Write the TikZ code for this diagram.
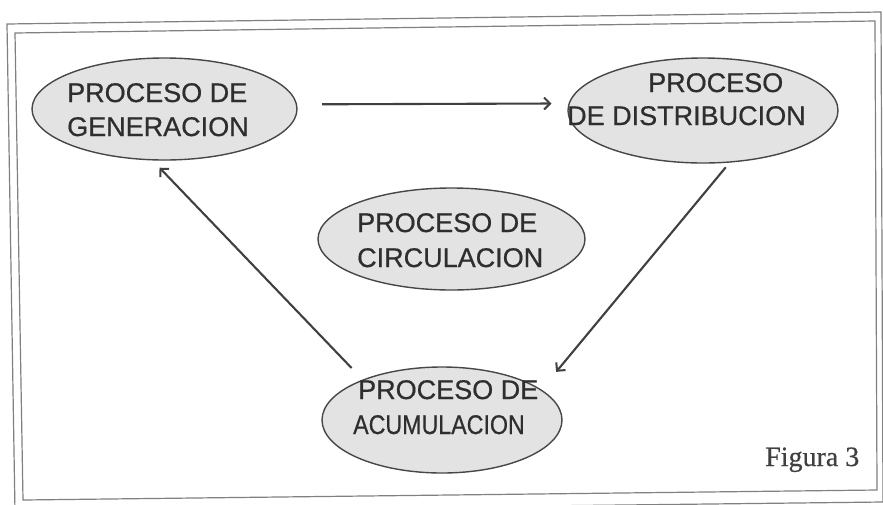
\documentclass[tikz,border=0pt]{standalone}
\usepackage{graphicx}
\usepackage{fontspec}
\setmainfont{Liberation Serif}
\newfontfamily\arialf[FakeBold=0.6]{Liberation Sans}
\newfontfamily\timesf[FakeBold=0.5]{Liberation Serif}
\usetikzlibrary{shapes.geometric,arrows.meta}
\begin{document}
\begin{tikzpicture}[x=1pt,y=-1pt,
  proc/.style={ellipse, draw=black!72, line width=1.4pt, fill=black!11, inner sep=0pt},
  lbl/.style={font=\arialf\fontsize{27}{27}\selectfont, text=black!82, anchor=base west, inner sep=0pt},
  flow/.style={draw=black!75, line width=2.1pt, -{Straight Barb[length=6pt,width=12pt,line width=2pt]}},
  framel/.style={draw=black!50, line width=1.2pt}]
\useasboundingbox (0,0) rectangle (883,504);
\fill[white] (0,0) rectangle (883,504);
% double frame
\draw[framel] (7,24) -- (881,12) -- (883,502) -- (15,512) -- cycle;
\draw[framel] (15,33) -- (875,21) -- (877,490) -- (23,500) -- cycle;
% ellipses
\node[proc, minimum width=265pt, minimum height=102pt] (gen) at (164.5,109) {};
\node[proc, minimum width=270pt, minimum height=105pt] (dist) at (703,110.5) {};
\node[proc, minimum width=267pt, minimum height=102pt] (circ) at (451.5,239) {};
\node[proc, minimum width=240pt, minimum height=106pt] (acc) at (442,420) {};
% texts
\node[lbl] (gen1) at (67,102) {PROCESO DE};
\node[lbl] (gen2) at (67,136) {GENERACION};
\node[lbl] (dist1) at (648,92) {PROCESO};
\node[lbl] (dist2) at (567,125) {DE DISTRIBUCION};
\node[lbl] (circ1) at (357,232) {PROCESO DE};
\node[lbl] (circ2) at (357,267) {CIRCULACION};
\node[lbl] (acc1) at (358,399) {PROCESO DE};
\node[lbl] (acc2) at (353,434) {\scalebox{0.86}[1]{ACUMULACION}};
\node[anchor=base west, inner sep=0pt, font=\timesf\fontsize{28}{28}\selectfont, text=black!75] (fig) at (765,466) {Figura 3};
% arrows
\draw[flow, shorten <=25pt, shorten >=17pt] (gen.2) -- (dist.177);
\draw[flow, shorten <=6pt, shorten >=23pt] (dist.-63) -- (acc.17.5);
\draw[flow, shorten <=16pt, shorten >=10pt] (acc.153) -- (gen.-103);
\end{tikzpicture}
\end{document}
